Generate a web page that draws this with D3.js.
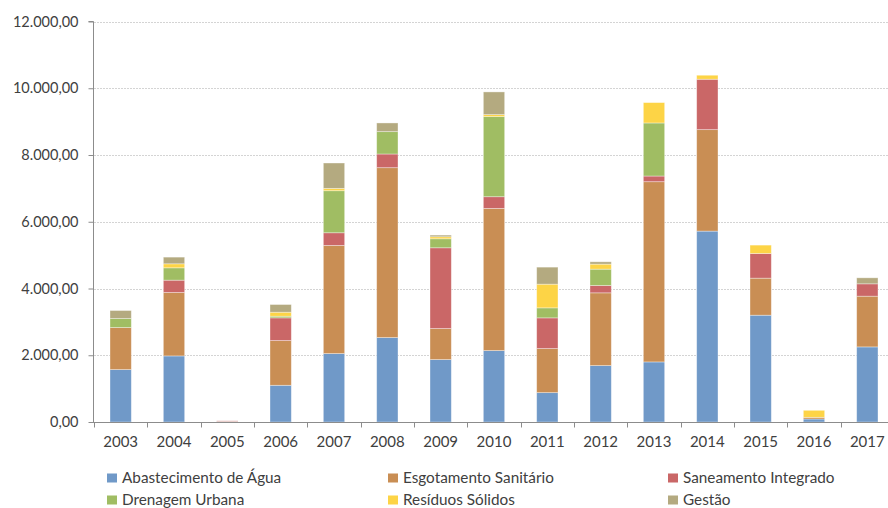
<!DOCTYPE html>
<html>
<head>
<meta charset="utf-8">
<script src="https://cdn.jsdelivr.net/npm/d3@7/dist/d3.min.js"></script>
<style>
  html, body { margin: 0; padding: 0; background: #fff; overflow: hidden; }
  svg { display: block; font-family: Lato, "Open Sans", sans-serif; }
</style>
</head>
<body>
<svg id="chart" width="888" height="508"></svg>
<script>
// Investimentos por modalidade e ano
const years = ["2003","2004","2005","2006","2007","2008","2009","2010","2011","2012","2013","2014","2015","2016","2017"];
const seriesNames = ["Abastecimento de Água","Esgotamento Sanitário","Saneamento Integrado","Drenagem Urbana","Resíduos Sólidos","Gestão"];
const abastecimento = [1570, 1980, 10, 1100, 2050, 2530, 1870, 2140, 880, 1690, 1800, 5720, 3200, 90, 2250];
const esgotamento   = [1260, 1900, 10, 1340, 3240, 5090, 930, 4260, 1320, 2180, 5400, 3040, 1110, 50, 1520];
const saneamento    = [0, 370, 15, 680, 380, 410, 2420, 350, 920, 220, 170, 1510, 740, 0, 370];
const drenagem      = [270, 370, 0, 50, 1260, 670, 270, 2400, 300, 490, 1590, 0, 0, 0, 0];
const residuos      = [0, 120, 0, 120, 70, 0, 60, 60, 710, 150, 610, 120, 250, 210, 0];
const gestao        = [240, 200, 0, 230, 760, 260, 50, 680, 510, 70, 0, 0, 0, 0, 180];
const yTicks = [0, 2000, 4000, 6000, 8000, 10000, 12000];
const colors = ["#7099C8", "#C98E54", "#CA6767", "#A0BD63", "#FDD446", "#B4AA80"];

const seriesValues = [abastecimento, esgotamento, saneamento, drenagem, residuos, gestao];
const rows = years.map((y, i) => {
  const r = { year: y };
  seriesNames.forEach((n, k) => { r[n] = seriesValues[k][i]; });
  return r;
});

const svg = d3.select("#chart");
const margin = { left: 94, top: 21.5, bottom: 86 };
const plotRight = 894;
const plotBottom = 508 - margin.bottom;

const x = d3.scaleBand().domain(years).range([margin.left, plotRight]).paddingInner(0.6).paddingOuter(0.3);
const y = d3.scaleLinear().domain([0, 12000]).range([plotBottom, margin.top]);

const fmt = v => d3.format(",.2f")(v).replace(/,/g, "#").replace(/\./g, ",").replace(/#/g, ".");

// gridlines
svg.append("g").selectAll("line").data(yTicks.filter(t => t > 0)).join("line")
  .attr("x1", margin.left).attr("x2", 888)
  .attr("y1", d => Math.round(y(d)) + 0.5).attr("y2", d => Math.round(y(d)) + 0.5)
  .attr("stroke", "#d4d4d4").attr("stroke-width", 1).attr("stroke-dasharray", "2,1");

// stacked bars
const stack = d3.stack().keys(seriesNames)(rows);
svg.append("g").selectAll("g").data(stack).join("g")
  .attr("fill", (d, i) => colors[i])
  .selectAll("rect").data(d => d).join("rect")
  .attr("x", d => x(d.data.year))
  .attr("width", x.bandwidth())
  .attr("y", d => y(d[1]))
  .attr("height", d => Math.max(0, y(d[0]) - y(d[1])))
  .attr("stroke", "rgba(255,255,255,0.45)")
  .attr("stroke-width", 0.8);

// y axis
const yAxis = d3.axisLeft(y).tickValues(yTicks).tickSize(5).tickPadding(10).tickFormat(fmt);
const gy = svg.append("g").attr("transform", `translate(${margin.left - 0.5},0)`).call(yAxis);
gy.select(".domain").attr("stroke", "#8c8c8c").attr("d", `M-5,${y(12000)}H0V${plotBottom}`);
gy.selectAll(".tick line").attr("stroke", "#8c8c8c");
gy.selectAll(".tick text").attr("fill", "#404040").style("font-size", "14.5px").style("font-family", "Lato, sans-serif");

// x axis
const gx = svg.append("g").attr("transform", `translate(0,${plotBottom + 0.5})`);
gx.append("line").attr("x1", margin.left - 5).attr("x2", 888).attr("stroke", "#8c8c8c");
const bounds = d3.range(years.length + 1).map(i => margin.left + i * x.step());
gx.selectAll(".tk").data(bounds).join("line").attr("class", "tk")
  .attr("x1", d => Math.round(d) + 0.5).attr("x2", d => Math.round(d) + 0.5)
  .attr("y1", 0).attr("y2", 5).attr("stroke", "#8c8c8c");
gx.selectAll("text").data(years).join("text")
  .attr("x", d => x(d) + x.bandwidth() / 2).attr("y", 24)
  .attr("text-anchor", "middle").attr("fill", "#404040")
  .style("font-size", "15px").text(d => d);

// legend
const legendCols = [107, 388, 668];
const legendRows = [478, 500];
const lg = svg.append("g").selectAll("g").data(seriesNames).join("g")
  .attr("transform", (d, i) => `translate(${legendCols[i % 3]},${legendRows[Math.floor(i / 3)]})`);
lg.append("rect").attr("x", 0).attr("y", -4.5).attr("width", 10).attr("height", 9).attr("fill", (d, i) => colors[i]);
lg.append("text").attr("x", 15).attr("y", 5.3).attr("fill", "#404040")
  .style("font-size", "15.3px").text(d => d);
</script>
</body>
</html>
